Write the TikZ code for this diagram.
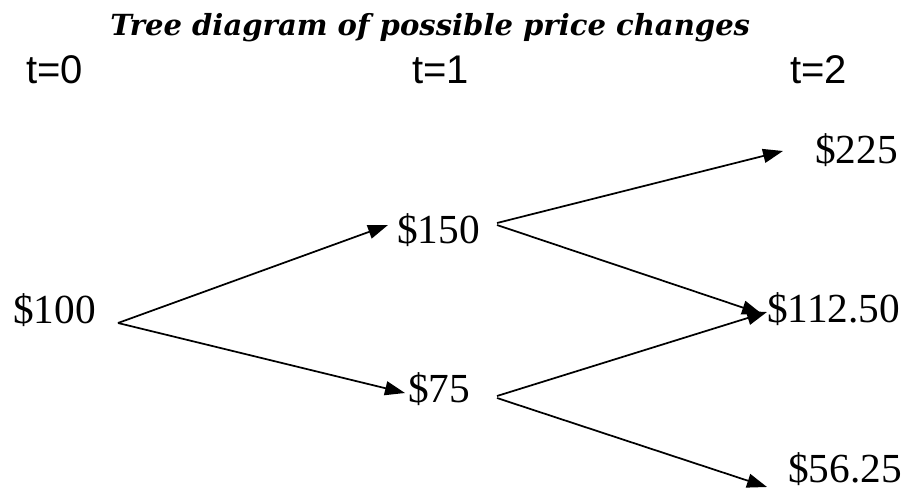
\documentclass[tikz,border=0pt]{standalone}
\usepackage{fontspec}
\usepackage{tikz}
\usetikzlibrary{arrows.meta, positioning, calc}
\setmainfont{Liberation Serif}
\newfontfamily\titlefont{DejaVu Serif}
\newfontfamily\stepfont{Liberation Sans}

\begin{document}
\begin{tikzpicture}[
  x=0.75pt, y=-0.75pt,
  every node/.style={inner sep=0pt, anchor=base west},
  titleText/.style={font=\titlefont\bfseries\itshape\fontsize{21.8}{25}\selectfont},
  timeText/.style={font=\stepfont\fontsize{30}{34}\selectfont},
  priceNode/.style={font=\fontsize{31}{36}\selectfont},
  branch/.style={-{Triangle[length=15pt, width=10.5pt]}, line width=1.3pt}
]
  \useasboundingbox (0,0) rectangle (910,489);

  \node[titleText] (title) at (110,35) {Tree diagram of possible price changes};

  \node[timeText] (t0) at (26,83) {t=0};
  \node[timeText] (t1) at (412,83) {t=1};
  \node[timeText] (t2) at (790,83) {t=2};

  \node[priceNode] (p100) at (13,323) {\$100};
  \node[priceNode] (p150) at (397,243) {\$150};
  \node[priceNode] (p75) at (408,402) {\$75};
  \node[priceNode] (p225) at (815,163) {\$225};
  \node[priceNode] (p112) at (767,322) {\$112.50};
  \node[priceNode] (p56) at (788,482) {\$56.25};

  % up and down moves
  \draw[branch] ([shift={(105,0)}]p100.base west) -- ([shift={(-9,-18)}]p150.base west);
  \draw[branch] ([shift={(105,0)}]p100.base west) -- ([shift={(-3,-9)}]p75.base west);
  \draw[branch] ([shift={(100,-20)}]p150.base west) -- ([shift={(-32,-12)}]p225.base west);
  \draw[branch] ([shift={(100,-18)}]p150.base west) -- ([shift={(-5,-8)}]p112.base west);
  \draw[branch] ([shift={(89,-6)}]p75.base west) -- ([shift={(0,-10)}]p112.base west);
  \draw[branch] ([shift={(89,-4)}]p75.base west) -- ([shift={(-21,5)}]p56.base west);

\end{tikzpicture}
\end{document}
